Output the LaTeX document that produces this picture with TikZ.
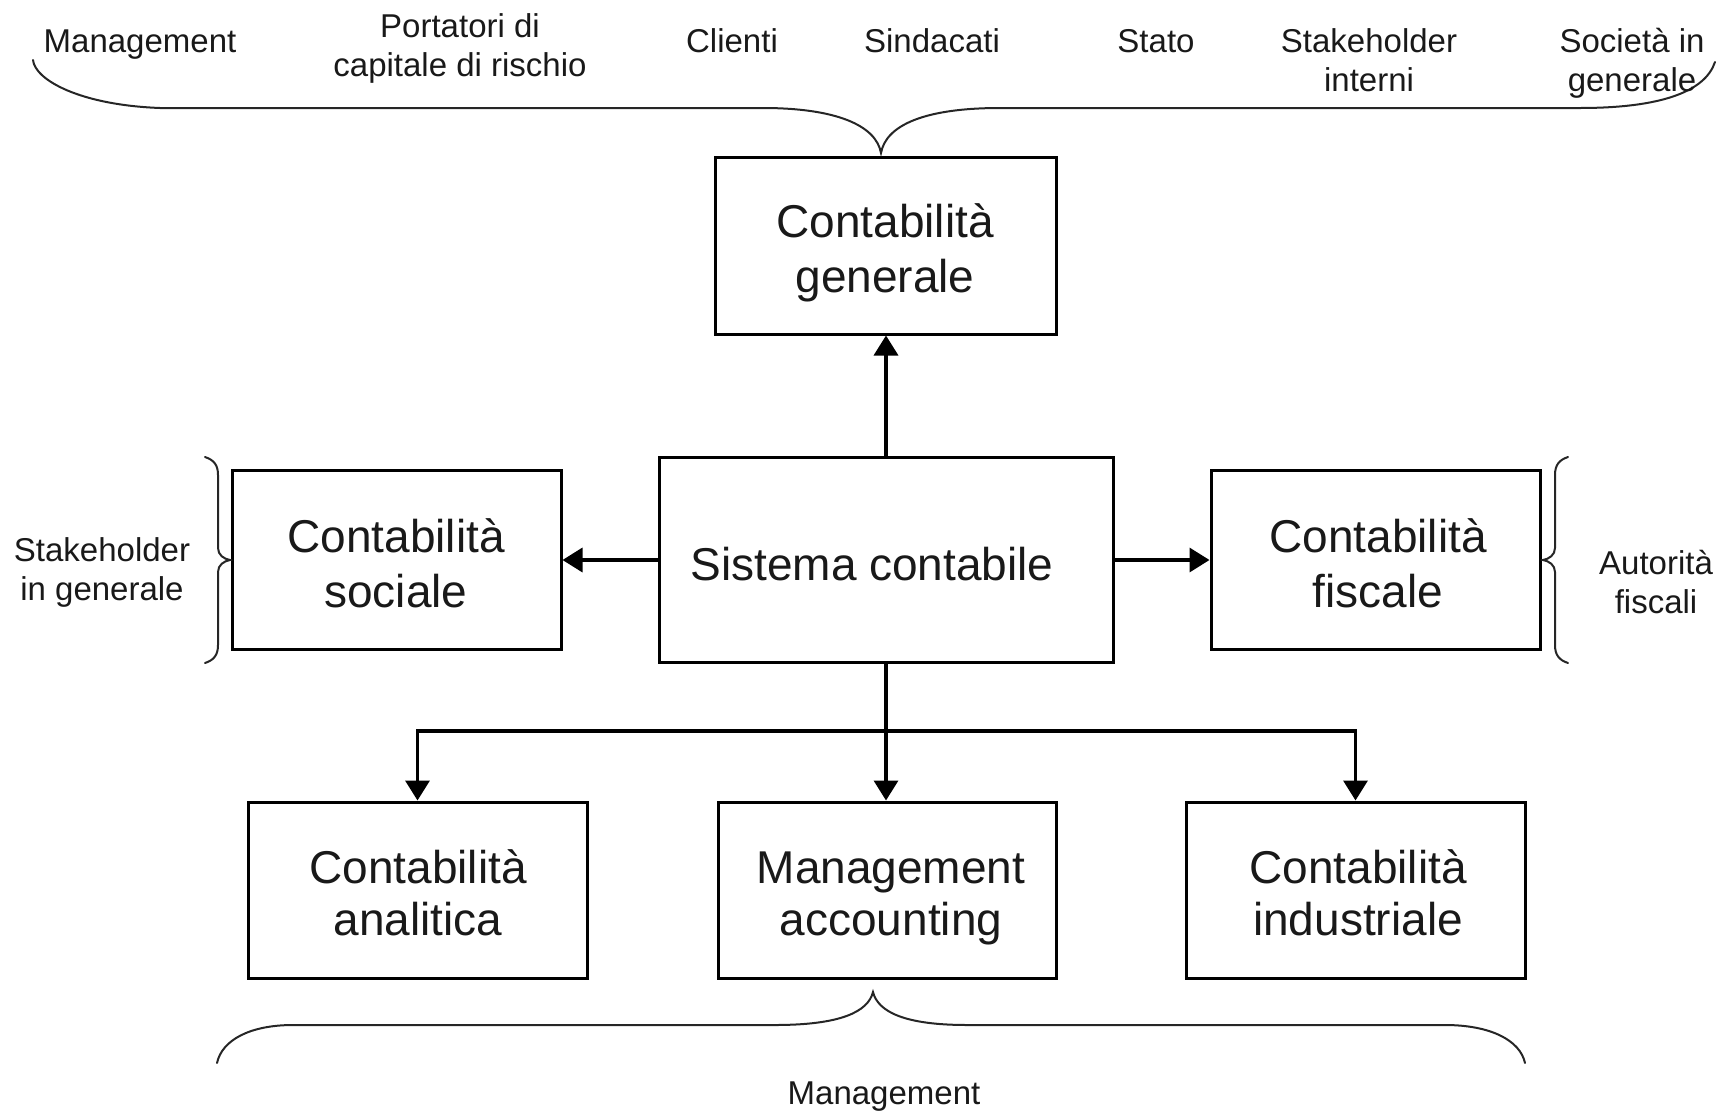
\documentclass[tikz,border=0pt]{standalone}
\usepackage{fontspec}
\setmainfont{Liberation Sans}
\usetikzlibrary{arrows.meta}
\begin{document}
\begin{tikzpicture}[x=0.5pt,y=-0.5pt,
  box/.style={draw, line width=1.5pt, inner sep=0pt, rectangle},
  btext/.style={font=\fontsize{23pt}{27.5pt}\selectfont, align=center, anchor=base, inner sep=0pt, text=black!90},
  btextlow/.style={btext, font=\fontsize{23pt}{26pt}\selectfont},
  ltext/.style={font=\fontsize{16.5pt}{19.5pt}\selectfont, align=center, anchor=base, inner sep=0pt, text=black!90},
  conn/.style={line width=1.75pt, -{Triangle[length=10pt,width=12pt]}, line join=miter},
  brace/.style={line width=1pt, black!85, line cap=round}]
\useasboundingbox (0,0) rectangle (1734,1114);

% boxes
\node[box, minimum width=170.5pt, minimum height=88.5pt] (gen) at (885.5,245.5) {};
\node[box, minimum width=227pt, minimum height=102.5pt] (sis) at (886,560) {};
\node[box, minimum width=164.5pt, minimum height=89.5pt] (soc) at (396.5,560) {};
\node[box, minimum width=164.5pt, minimum height=89.5pt] (fis) at (1375.5,560) {};
\node[box, minimum width=169.5pt, minimum height=88pt] (ana) at (417.5,890) {};
\node[box, minimum width=169pt, minimum height=88pt] (ma) at (887,890) {};
\node[box, minimum width=169.5pt, minimum height=88pt] (ind) at (1355.5,890) {};

% box texts (anchor = baseline of last line)
\node[btext] (gent) at (885,292.5) {Contabilità\\generale};
\node[btext] (sist) at (872,580) {Sistema contabile};
\node[btext] (soct) at (396,607) {Contabilità\\sociale};
\node[btext] (fist) at (1378,607) {Contabilità\\fiscale};
\node[btextlow] (anat) at (418,935) {Contabilità\\analitica};
\node[btextlow] (mat) at (891,935) {Management\\accounting};
\node[btextlow] (indt) at (1358,935) {Contabilità\\industriale};

% connectors
\coordinate (bus) at (886,731);
\draw[conn] (sis.north) -- (sis.north |- gen.south);
\draw[conn] (sis.west) -- (soc.east);
\draw[conn] (sis.east) -- (fis.west);
\draw[conn] (sis.south) -- (sis.south |- ma.north);
\draw[conn] (bus) -| (ana.north);
\draw[conn] (bus) -| (ind.north);

% braces
\draw[brace] (33,60) .. controls (35,80) and (80,105) .. (160,108) -- (763,108)
  .. controls (835,108) and (876,125) .. (881,153)
  .. controls (886,125) and (925,108) .. (1000,108) -- (1580,108)
  .. controls (1660,108) and (1705,92) .. (1715,62);
\draw[brace] (217,1063) .. controls (222,1040) and (250,1025) .. (293,1025) -- (775,1025)
  .. controls (840,1025) and (868,1012) .. (873,992)
  .. controls (878,1012) and (905,1025) .. (967,1025) -- (1445,1025)
  .. controls (1490,1025) and (1520,1040) .. (1525,1063);
\draw[brace] (205,457) .. controls (214,460) and (218,465) .. (218,475) -- (218,548)
  .. controls (218,555) and (224,559) .. (230,560)
  .. controls (224,561) and (218,565) .. (218,572) -- (218,645)
  .. controls (218,655) and (214,660) .. (205,663);
\draw[brace] (1568,457) .. controls (1559,460) and (1555,465) .. (1555,475) -- (1555,548)
  .. controls (1555,555) and (1549,559) .. (1543,560)
  .. controls (1549,561) and (1555,565) .. (1555,572) -- (1555,645)
  .. controls (1555,655) and (1559,660) .. (1568,663);

% labels (anchor = baseline of last line)
\node[ltext] (l1) at (140,52) {Management};
\node[ltext] (l2) at (460,76) {Portatori di\\capitale di rischio};
\node[ltext] (l3) at (732,52) {Clienti};
\node[ltext] (l4) at (932,52) {Sindacati};
\node[ltext] (l5) at (1156,52) {Stato};
\node[ltext] (l6) at (1369,91) {Stakeholder\\interni};
\node[ltext] (l7) at (1632,91) {Società in\\generale};
\node[ltext] (l8) at (102,600) {Stakeholder\\in generale};
\node[ltext] (l9) at (1656,613) {Autorità\\fiscali};
\node[ltext] (l10) at (884,1104) {Management};
\end{tikzpicture}
\end{document}
